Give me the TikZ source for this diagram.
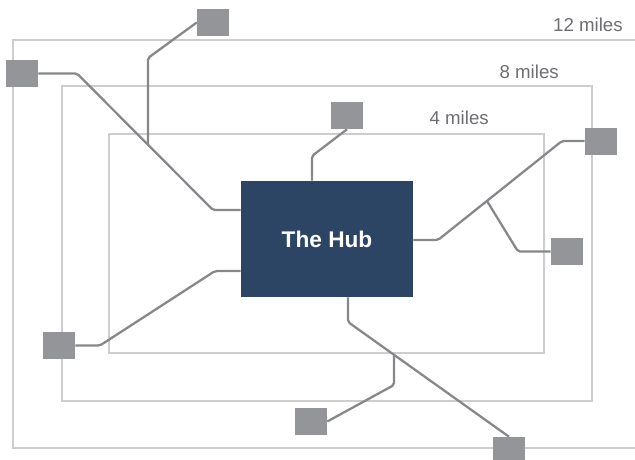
\documentclass[tikz,border=0pt]{standalone}
\usepackage{fontspec}
\setmainfont{Liberation Sans}
\usepackage{tikz}
\usetikzlibrary{positioning}

\definecolor{hubblue}{HTML}{2C4565}
\definecolor{sitegray}{HTML}{939598}
\definecolor{linkgray}{HTML}{86878A}
\definecolor{ringgray}{HTML}{CDCDCD}
\definecolor{labelgray}{HTML}{6D6E71}

\tikzset{
  ring/.style={draw=ringgray, line width=1.1pt},
  site/.style={fill=sitegray, minimum width=24pt, minimum height=20.25pt, inner sep=0pt},
  hub/.style={fill=hubblue, text=white, font=\bfseries\fontsize{17}{20}\selectfont,
              minimum width=129pt, minimum height=87pt, inner sep=0pt},
  link/.style={draw=linkgray, line width=1.7pt, rounded corners=1.5pt},
  miles/.style={text=labelgray, font=\fontsize{14}{16}\selectfont, anchor=east, inner sep=0.75pt}
}

\begin{document}
\begin{tikzpicture}[x=0.75pt,y=0.75pt,yscale=-1]
\useasboundingbox (0,0) rectangle (635,460);
\clip (0,0) rectangle (635,460);

%Shape: Rectangle, 12 miles
\draw[ring] (13,40) rectangle (645,448);
%Shape: Rectangle, 8 miles
\draw[ring] (62,86) rectangle (592,401);
%Shape: Rectangle, 4 miles
\draw[ring] (109,134) rectangle (544,353);

% Text Node
\node[miles] (twelve) at (624,25) {12 miles};
% Text Node
\node[miles] (eight) at (560,72) {8 miles};
% Text Node
\node[miles] (four) at (490,118) {4 miles};

%Shape: The Hub
\node[hub] (hub) at (327,239) {The Hub};

%Shape: Sites
\node[site] (siteA) at (213,22.5) {};
\node[site] (siteB) at (22,73.5) {};
\node[site] (siteC) at (347,115.5) {};
\node[site] (siteD) at (601,141) {};
\node[site] (siteE) at (567,251.5) {};
\node[site] (siteF) at (59,345.5) {};
\node[site] (siteG) at (311,421.5) {};
\node[site] (siteH) at (509,450.5) {};

%Bends and joins
\coordinate (joinA) at (148,144);
\coordinate (bendC) at (312,156);
\coordinate (joinD) at (487,201);
\coordinate (topB) at (348,322);
\coordinate (joinH) at (394,356);

%Links
\draw[link] (siteB.east) -- (77,73.5) -- (213,210) -- (hub.west |- 213,210);
\draw[link] (siteA.west) -- (148,58) -- (joinA);
\draw[link] (siteC.south) -- (bendC) -- (hub.north -| bendC);
\draw[link] (hub.east |- 0,240) -- (438,240) -- (562,141) -- (siteD.west);
\draw[link] (joinD) -- (518,251.5) -- (siteE.west);
\draw[link] (hub.west |- 0,271) -- (215,271) -- (100,345.5) -- (siteF.east);
\draw[link] (hub.south -| topB) -- (topB) -- (siteH.north);
\draw[link] (joinH) -- (394,385) -- (siteG.east);

\end{tikzpicture}
\end{document}
